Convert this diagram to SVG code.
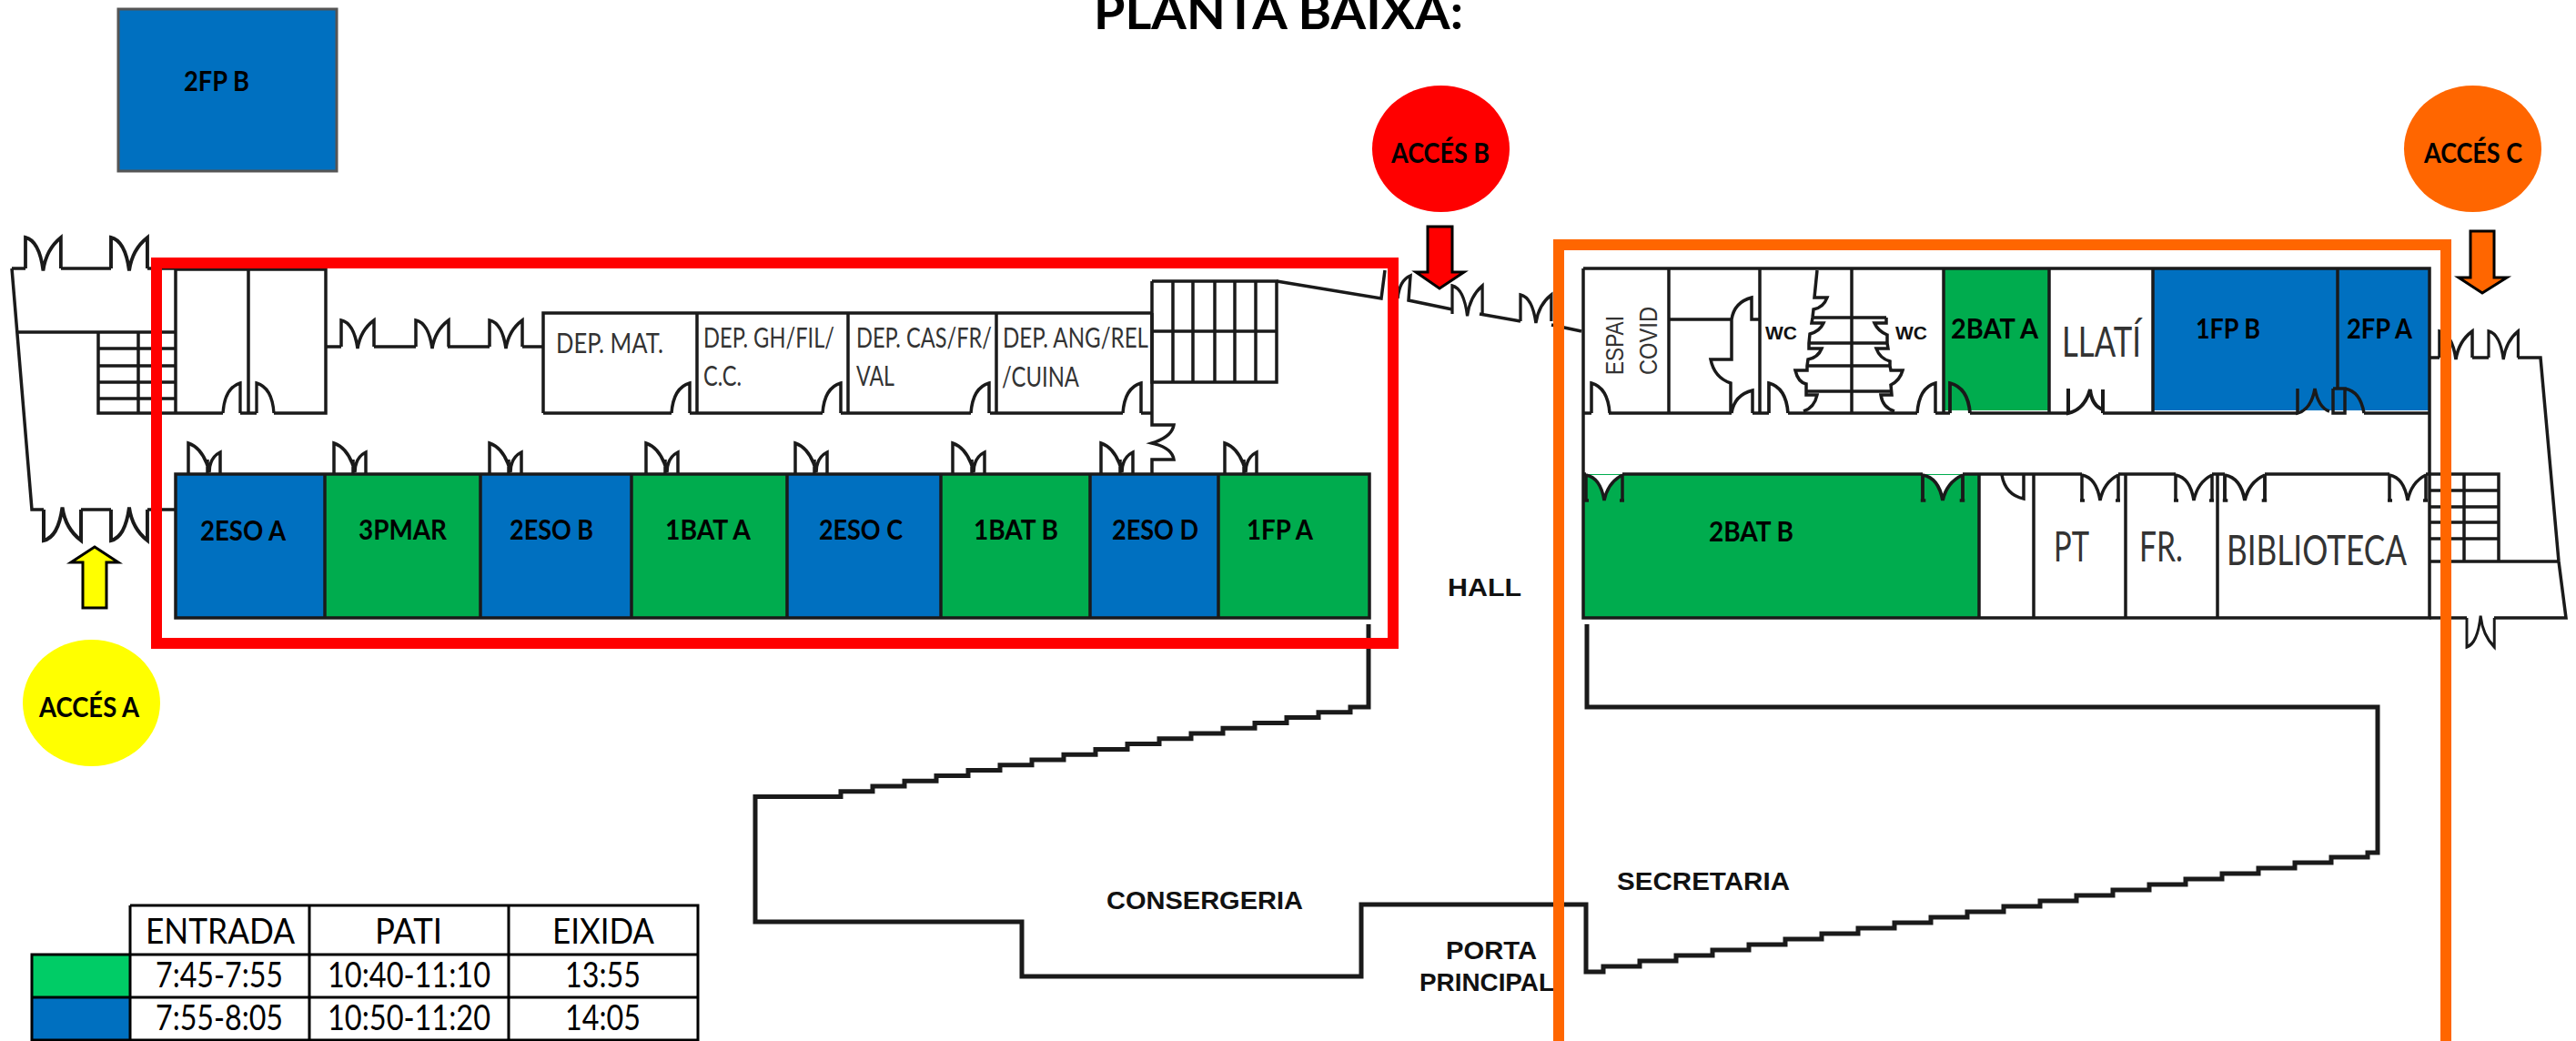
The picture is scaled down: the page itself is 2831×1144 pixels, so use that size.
<svg xmlns="http://www.w3.org/2000/svg" width="2831" height="1144" viewBox="0 0 2831 1144">
<style>
.w{fill:none;stroke:#1a1a1a;stroke-width:3.5;stroke-linejoin:miter}
.s{fill:none;stroke:#1a1a1a;stroke-width:5}
.b{fill:#0070c0}.g{fill:#00ac4e}
text{font-family:"Lato","Open Sans",sans-serif}
.rl{font-weight:700;font-size:31px;fill:#000}
.ar{font-family:"Liberation Sans",Arial,sans-serif;font-weight:700;fill:#111;font-size:28px}
.dp{font-size:30px;fill:#333}
.big{font-size:46px;fill:#333}
.tb{font-size:38px;fill:#000}
.cell{fill:none;stroke:#000;stroke-width:3}
.arrow{stroke:#000;stroke-width:3;stroke-linejoin:miter}
</style>
<defs>
<path id="mu" class="w" d="M0,0V-29Q14,-26 18,2Q21,-18 36,-29V0"/>
<path id="md" class="w" d="M0,0V-34Q17,-28 23,-2Q23,-18 35,-24V0M21,0V-16"/>
<path id="mf" d="M0,0Q16,3 20,28Q24,8 40,0Z" fill="#fff"/>
<path id="mh" class="w" d="M0,0Q16,3 20,28Q24,8 40,0M0,-1V28M40,-1V28M-2,28H3M37,28H42"/>
<path id="dl" class="w" d="M0,0Q2,-28 20,-33V0"/>
<path id="dr" class="w" d="M0,0V-33Q18,-28 20,0"/>
</defs>

<g id="title"><text x="1202" y="32" font-size="54" font-weight="700" textLength="406" lengthAdjust="spacingAndGlyphs" fill="#000">PLANTA BAIXA:</text></g>

<g id="room-2fp-b"><rect class="b" x="130" y="10" width="240" height="178" stroke="#555" stroke-width="3"/><text class="rl" x="202" y="100" textLength="72" lengthAdjust="spacingAndGlyphs">2FP B</text></g>

<g id="room-2eso-a"><rect class="b" x="193" y="521" width="164" height="157"/><text class="rl" x="220" y="594" textLength="94" lengthAdjust="spacingAndGlyphs">2ESO A</text></g>
<g id="room-3pmar"><rect class="g" x="357" y="521" width="171" height="157"/><text class="rl" x="394" y="593" textLength="97" lengthAdjust="spacingAndGlyphs">3PMAR</text></g>
<g id="room-2eso-b"><rect class="b" x="528" y="521" width="166" height="157"/><text class="rl" x="560" y="593" textLength="92" lengthAdjust="spacingAndGlyphs">2ESO B</text></g>
<g id="room-1bat-a"><rect class="g" x="694" y="521" width="171" height="157"/><text class="rl" x="731" y="593" textLength="94" lengthAdjust="spacingAndGlyphs">1BAT A</text></g>
<g id="room-2eso-c"><rect class="b" x="865" y="521" width="169" height="157"/><text class="rl" x="900" y="593" textLength="92" lengthAdjust="spacingAndGlyphs">2ESO C</text></g>
<g id="room-1bat-b"><rect class="g" x="1034" y="521" width="164" height="157"/><text class="rl" x="1070" y="593" textLength="93" lengthAdjust="spacingAndGlyphs">1BAT B</text></g>
<g id="room-2eso-d"><rect class="b" x="1198" y="521" width="141" height="157"/><text class="rl" x="1222" y="593" textLength="95" lengthAdjust="spacingAndGlyphs">2ESO D</text></g>
<g id="room-1fp-a"><rect class="g" x="1339" y="521" width="166" height="157"/><text class="rl" x="1370" y="593" textLength="73" lengthAdjust="spacingAndGlyphs">1FP A</text></g>
<g id="room-2bat-a"><rect class="g" x="2136" y="296" width="116" height="155"/><text class="rl" x="2144" y="372" textLength="96" lengthAdjust="spacingAndGlyphs">2BAT A</text></g>
<g id="room-1fp-b"><rect class="b" x="2366" y="296" width="203" height="155"/><text class="rl" x="2413" y="372" textLength="71" lengthAdjust="spacingAndGlyphs">1FP B</text></g>
<g id="room-2fp-a"><rect class="b" x="2569" y="296" width="101" height="155"/><text class="rl" x="2579" y="372" textLength="72" lengthAdjust="spacingAndGlyphs">2FP A</text></g>
<g id="room-2bat-b"><rect class="g" x="1740" y="521" width="435" height="157"/><text class="rl" x="1878" y="595" textLength="93" lengthAdjust="spacingAndGlyphs">2BAT B</text></g>

<g id="walls">
<!-- west wing -->
<path class="w" d="M13,295L35,560H48M13,295H28M67,295H122M162,295H193M19,365H193M89,560H122M162,560H193"/>
<use href="#mu" transform="translate(28,295) scale(1.08,1.17)"/>
<use href="#mu" transform="translate(122,295) scale(1.11,1.17)"/>
<use href="#mu" transform="translate(48,560) scale(1.14,-1.17)"/>
<use href="#mu" transform="translate(122,560) scale(1.11,-1.17)"/>
<path class="w" d="M108,365V454H245M108,383H193M108,402H193M108,420H193M108,438H193M152,365V454M193,295V454M193,296H358V454H301M273,296V454M264,454H282"/>
<use href="#dl" transform="translate(245,454) scale(.95,1)"/>
<use href="#dr" transform="translate(282,454) scale(.95,1)"/>
<path class="w" d="M358,381H375M411,381H457M492,381H538M574,381H597"/>
<use href="#mu" transform="translate(375,381)"/>
<use href="#mu" transform="translate(457,381)"/>
<use href="#mu" transform="translate(538,381)"/>
<!-- departments -->
<path class="w" d="M597,454V344H1266M766,344V454M932,344V454M1095,344V454M1266,344V454M597,454H738M758,454H904M924,454H1067M1088,454H1234M1254,454H1266"/>
<use href="#dl" transform="translate(738,454)"/>
<use href="#dl" transform="translate(904,454)"/>
<use href="#dl" transform="translate(1067,454)"/>
<use href="#dl" transform="translate(1234,454)"/>
<!-- stairs north -->
<path class="w" d="M1266,309H1403V420H1266V309M1266,364H1403M1289,309V420M1311,309V420M1335,309V420M1357,309V420M1380,309V420"/>
<path class="w" d="M1266,454V467H1290Q1288,480 1266,487Q1288,492 1290,505H1266V521"/>
<path class="w" d="M1403,309L1518,328L1522,297M1536,328Q1538,308 1550,303L1548,330L1596,340"/>
<use href="#mu" transform="translate(1596,345) scale(.92,1.07)"/>
<path class="w" d="M1626,345L1671,353"/>
<use href="#mu" transform="translate(1671,353) scale(.94,1)"/>
<path class="w" d="M1705,357L1738,364"/>
<!-- west classrooms -->
<path class="w" d="M193,521H1505V679H193ZM357,521V679M528,521V679M694,521V679M865,521V679M1034,521V679M1198,521V679M1339,521V679"/>
<use href="#md" transform="translate(207,521)"/>
<use href="#md" transform="translate(367,521)"/>
<use href="#md" transform="translate(538,521)"/>
<use href="#md" transform="translate(710,521)"/>
<use href="#md" transform="translate(874,521)"/>
<use href="#md" transform="translate(1047,521)"/>
<use href="#md" transform="translate(1210,521)"/>
<use href="#md" transform="translate(1346,521)"/>
<!-- south outlines -->
<path class="s" d="M1504,686V777H1484v5.8h-35v5.8h-35v5.8h-35v5.8h-35v5.8h-35v5.8h-35v5.8h-35v5.8h-35v5.8h-35v5.8h-35v5.8h-35v5.8h-35v5.8h-35v5.8h-35v5.8h-35v5.8h-35v5.8H830V1013H1123V1073H1496V994H1743V1068H1762v-6h40v-6h40v-6h40v-6h40v-6h40v-6h40v-6h40v-6h40v-6h40v-6h40v-6h40v-6h40v-6h40v-6h40v-6h40v-6h40v-6h40v-6h40v-6h40v-6h40v-6h40v-5H2613V777H1744V686"/>
<!-- east wing -->
<path class="w" d="M1740,295H2670V679H1740V295M1740,454H1749M1768,454H1903M1926,454H1944M1965,454H2107M2127,454H2143M2165,454H2273M2311,454H2525M2598,454H2670M1834,296V454M1934,296V454M2035,296V454M2136,296V454M2252,296V454M2366,296V454M2569,296V427"/>
<use href="#dr" transform="translate(1749,454)"/>
<path class="w" d="M1834,351H1903Q1906,332 1925,327V351H1934M1903,351V395H1880Q1884,415 1902,421V454M1903,454Q1906,434 1926,429V454"/>
<use href="#dr" transform="translate(1944,454) scale(1.05,1)"/>
<use href="#dl" transform="translate(2107,454)"/>
<use href="#dr" transform="translate(2143,454) scale(1.1,1)"/>
<!-- wc stairs -->
<path class="w" d="M1997,297L1994,327H2008Q2004,338 1993,340L1992,349L1991,355H2004Q2000,364 1989,367L1988,377V383H2002Q1998,393 1987,395L1986,402V407H1973Q1976,420 1985,422V434H1997Q1994,448 1982,452M2073,349V355H2060Q2064,364 2074,368V377L2075,383H2062Q2066,394 2077,397V402L2078,407H2091Q2088,418 2078,423L2079,434H2067Q2069,448 2082,452M1992,349H2073M1988,377H2074M1986,402H2077M1985,430H2079"/>
<!-- llati door, 1fp-b doors -->
<path class="w" d="M2273,427V454Q2291,450 2297,428Q2299,446 2311,450V428M2311,450V454" style="stroke-width:4"/>
<path class="w" d="M2525,427V454Q2540,450 2544,427Q2548,448 2560,452M2564,427V454H2577V427H2564M2577,427Q2594,430 2598,454"/>
<!-- east classrooms -->
<use href="#mf" transform="translate(1743,522)"/>
<use href="#mf" transform="translate(2113,522) scale(1.1,1)"/>
<path class="w" d="M1740,521H1743M1783,521H2113M2157,521H2288M2328,521H2391M2431,521H2445M2489,521H2626M2666,521H2670M2175,521V679M2235,521V679M2336,521V679M2437,521V679M2200,522Q2204,544 2224,548V521"/>
<use href="#mh" transform="translate(1743,522)"/>
<use href="#mh" transform="translate(2113,522) scale(1.1,1)"/>
<use href="#mh" transform="translate(2288,522)"/>
<use href="#mh" transform="translate(2391,522)"/>
<use href="#mh" transform="translate(2445,522) scale(1.1,1)"/>
<use href="#mh" transform="translate(2626,522)"/>
<!-- east annex -->
<path class="w" d="M2670,393H2681M2717,393H2735M2767,393H2792L2812,617L2820,679H2741M2711,679H2670M2670,617H2812M2670,521H2746V617M2670,539H2746M2670,557H2746M2670,574H2746M2670,592H2746M2708,521V617"/>
<use href="#mu" transform="translate(2681,393)"/>
<use href="#mu" transform="translate(2735,393) scale(.9,1)"/>
<use href="#mu" transform="translate(2711,679) scale(.84,-1.1)"/>
</g>

<g id="labels">
<text class="dp" x="611" y="388" textLength="118" lengthAdjust="spacingAndGlyphs">DEP. MAT.</text>
<text class="dp" x="773" y="382" textLength="144" lengthAdjust="spacingAndGlyphs">DEP. GH/FIL/</text>
<text class="dp" x="773" y="424" textLength="42" lengthAdjust="spacingAndGlyphs">C.C.</text>
<text class="dp" x="941" y="382" textLength="149" lengthAdjust="spacingAndGlyphs">DEP. CAS/FR/</text>
<text class="dp" x="941" y="424" textLength="42" lengthAdjust="spacingAndGlyphs">VAL</text>
<text class="dp" x="1102" y="382" textLength="160" lengthAdjust="spacingAndGlyphs">DEP. ANG/REL</text>
<text class="dp" x="1101" y="425" textLength="85" lengthAdjust="spacingAndGlyphs">/CUINA</text>
<text transform="translate(1784,412) rotate(-90)" style="font-family:'Liberation Sans',Arial,sans-serif;font-size:27px" fill="#333" textLength="65" lengthAdjust="spacingAndGlyphs">ESPAI</text>
<text transform="translate(1821,412) rotate(-90)" style="font-family:'Liberation Sans',Arial,sans-serif;font-size:27px" fill="#333" textLength="75" lengthAdjust="spacingAndGlyphs">COVID</text>
<text class="ar" x="1940" y="373" style="font-size:21px" textLength="35" lengthAdjust="spacingAndGlyphs">WC</text>
<text class="ar" x="2083" y="373" style="font-size:21px" textLength="35" lengthAdjust="spacingAndGlyphs">WC</text>
<text class="big" x="2266" y="392" textLength="87" lengthAdjust="spacingAndGlyphs">LLATÍ</text>
<text class="big" x="2257" y="617" textLength="39" lengthAdjust="spacingAndGlyphs">PT</text>
<text class="big" x="2351" y="617" textLength="48" lengthAdjust="spacingAndGlyphs">FR.</text>
<text class="big" x="2447" y="621" textLength="198" lengthAdjust="spacingAndGlyphs">BIBLIOTECA</text>
<text class="ar" x="1591" y="655" textLength="81" lengthAdjust="spacingAndGlyphs">HALL</text>
<text class="ar" x="1216" y="999" textLength="216" lengthAdjust="spacingAndGlyphs">CONSERGERIA</text>
<text class="ar" x="1589" y="1054" textLength="100" lengthAdjust="spacingAndGlyphs">PORTA</text>
<text class="ar" x="1560" y="1089" textLength="148" lengthAdjust="spacingAndGlyphs">PRINCIPAL</text>
<text class="ar" x="1777" y="978" textLength="190" lengthAdjust="spacingAndGlyphs">SECRETARIA</text>
</g>

<g id="zone-red"><path fill="#f00" fill-rule="evenodd" d="M166,283H1537V713H166ZM178,295V701H1525V295Z"/></g>
<g id="zone-orange"><path fill="#f60" d="M1707,1144V263H2694V1144H2682V275H1719V1144Z"/></g>

<g id="access-a"><ellipse cx="100.5" cy="772.5" rx="75.5" ry="69.5" fill="#ff0"/><text class="rl" x="43" y="788" textLength="110" lengthAdjust="spacingAndGlyphs">ACCÉS A</text><path class="arrow" fill="#ff0" d="M104,601L130,618H117V668H91V618H78Z"/></g>
<g id="access-b"><ellipse cx="1583.5" cy="163.5" rx="75.5" ry="69.5" fill="#f00"/><text class="rl" x="1529" y="179" textLength="108" lengthAdjust="spacingAndGlyphs">ACCÉS B</text><path class="arrow" fill="#f00" d="M1569,249H1596V299H1609L1582,317L1556,299H1569Z"/></g>
<g id="access-c"><ellipse cx="2717.5" cy="163.5" rx="75.5" ry="69.5" fill="#f60"/><text class="rl" x="2664" y="179" textLength="108" lengthAdjust="spacingAndGlyphs">ACCÉS C</text><path class="arrow" fill="#f60" d="M2715,254H2741V305H2755L2728,322L2702,305H2715Z"/></g>

<g id="legend">
<rect x="35" y="1049" width="108" height="47" fill="#00cc66"/>
<rect x="35" y="1096" width="108" height="47" fill="#0070c0"/>
<path class="cell" d="M143,995H767V1143H35V1049H767M35,1096H767M143,995V1143M340,995V1143M559,995V1143"/>
<text class="tb" x="160" y="1037" textLength="164" lengthAdjust="spacingAndGlyphs">ENTRADA</text>
<text class="tb" x="412" y="1037" textLength="74" lengthAdjust="spacingAndGlyphs">PATI</text>
<text class="tb" x="607" y="1037" textLength="112" lengthAdjust="spacingAndGlyphs">EIXIDA</text>
<text class="tb" x="171" y="1085" textLength="140" lengthAdjust="spacingAndGlyphs">7:45-7:55</text>
<text class="tb" x="360" y="1085" textLength="179" lengthAdjust="spacingAndGlyphs">10:40-11:10</text>
<text class="tb" x="621" y="1085" textLength="83" lengthAdjust="spacingAndGlyphs">13:55</text>
<text class="tb" x="171" y="1132" textLength="140" lengthAdjust="spacingAndGlyphs">7:55-8:05</text>
<text class="tb" x="360" y="1132" textLength="179" lengthAdjust="spacingAndGlyphs">10:50-11:20</text>
<text class="tb" x="621" y="1132" textLength="83" lengthAdjust="spacingAndGlyphs">14:05</text>
</g>
</svg>
